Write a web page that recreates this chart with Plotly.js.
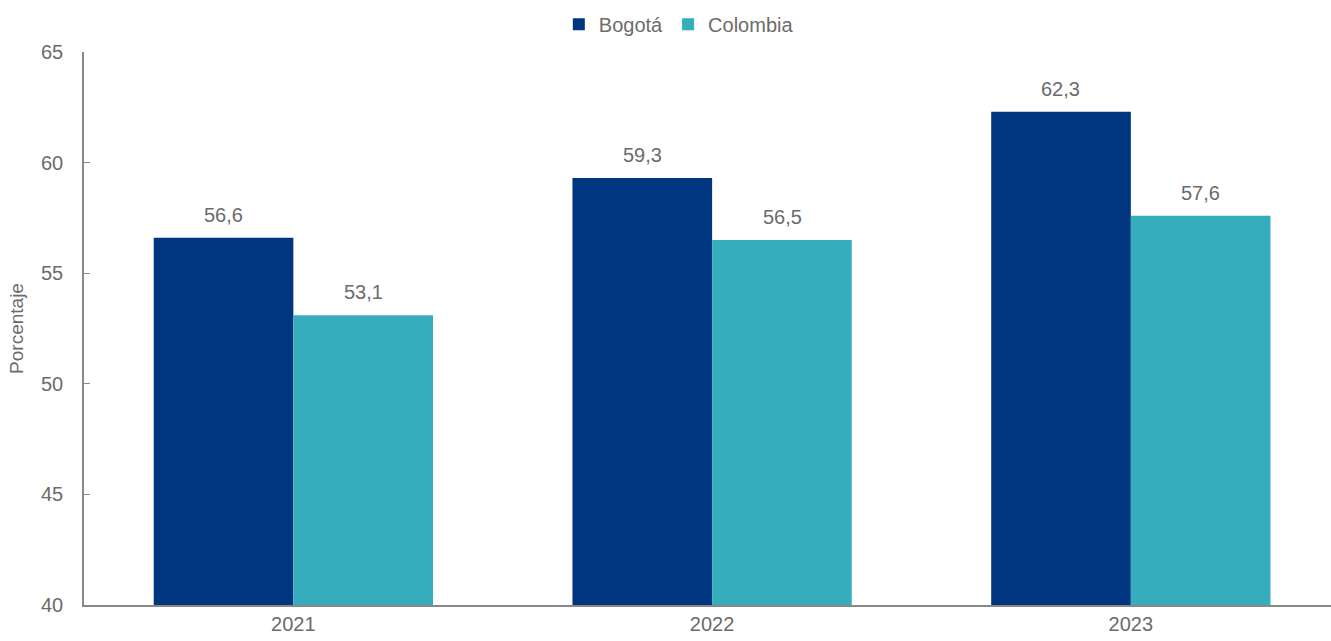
<!DOCTYPE html>
<html>
<head>
<meta charset="utf-8">
<script src="https://cdn.plot.ly/plotly-3.0.1.min.js"></script>
<style>html,body{margin:0;padding:0;background:#fff;}#chart{width:1331px;height:641px;}</style>
</head>
<body>
<div id="chart"></div>
<script>
const years = ['2021', '2022', '2023'];
const bogota = [56.6, 59.3, 62.3];
const colombia = [53.1, 56.5, 57.6];

const font = 'Liberation Sans, Arial, sans-serif';
const data = [
  {type: 'bar', name: 'Bogotá', x: years, y: bogota, marker: {color: '#003580'}},
  {type: 'bar', name: 'Colombia', x: years, y: colombia, marker: {color: '#35adbd'}}
];
const fmt = v => v.toFixed(1).replace('.', ',');
const annotations = [];
years.forEach((yr, i) => {
  annotations.push({x: i, y: bogota[i], xref: 'x', yref: 'y', text: fmt(bogota[i]), showarrow: false,
    xshift: -70, yshift: 23, font: {size: 20, color: '#6b6b6b'}});
  annotations.push({x: i, y: colombia[i], xref: 'x', yref: 'y', text: fmt(colombia[i]), showarrow: false,
    xshift: 70, yshift: 23, font: {size: 20, color: '#6b6b6b'}});
});
const layout = {
  width: 1331, height: 641,
  separators: ',.',
  font: {family: font, color: '#6b6b6b', size: 20},
  margin: {l: 84, r: 0, t: 52, b: 36},
  barmode: 'group', bargap: 0.333, bargroupgap: 0,
  showlegend: true,
  legend: {orientation: 'h', x: 0.477, xanchor: 'center', y: 1.05, yanchor: 'middle',
           font: {size: 20, color: '#6b6b6b'}, itemwidth: 30, tracegroupgap: 0},
  annotations: annotations,
  xaxis: {type: 'category', range: [-0.5, 2.478], showline: true, linecolor: '#888', linewidth: 2,
          ticks: '', tickfont: {size: 20, color: '#6b6b6b'}, showgrid: false, zeroline: false},
  yaxis: {range: [40, 65], dtick: 5, showline: true, linecolor: '#888', linewidth: 1.5,
          ticks: 'inside', ticklen: 6, tickcolor: '#888', tickfont: {size: 20, color: '#6b6b6b'},
          ticklabelstandoff: 15,
          showgrid: false, zeroline: false,
          title: {text: 'Porcentaje', font: {size: 19, color: '#6b6b6b'}, standoff: 12}},
  plot_bgcolor: '#fff', paper_bgcolor: '#fff'
};
Plotly.newPlot('chart', data, layout, {displayModeBar: false});
</script>
</body>
</html>
